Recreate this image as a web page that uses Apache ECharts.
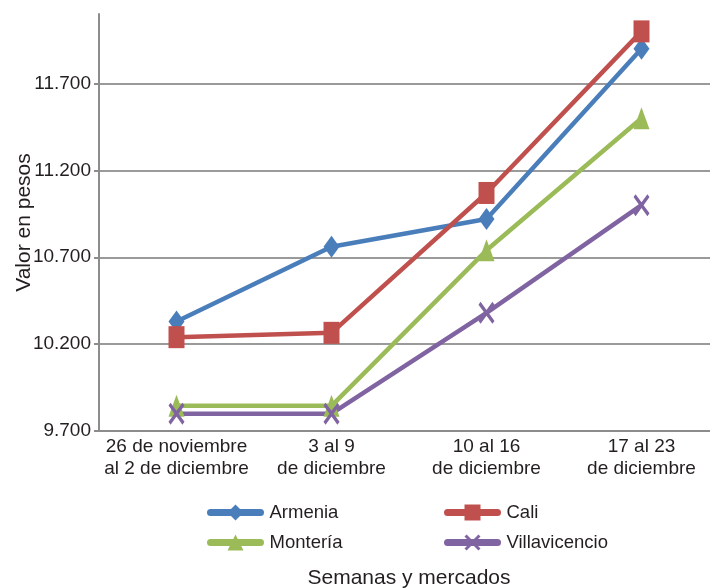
<!DOCTYPE html>
<html><head><meta charset="utf-8">
<script src="https://cdn.jsdelivr.net/npm/echarts@6/dist/echarts.min.js"></script>
<style>html,body{margin:0;padding:0;background:#fff}#c{width:710px;height:588px}</style>
</head><body><div id="c"></div>
<script>
const categories = ['26 de noviembre\nal 2 de diciembre', '3 al 9\nde diciembre', '10 al 16\nde diciembre', '17 al 23\nde diciembre'];
const armenia = [10330, 10760, 10920, 11900];
const cali = [10240, 10265, 11070, 12000];
const monteria = [9845, 9845, 10740, 11500];
const villavicencio = [9800, 9800, 10380, 11000];
const seriesNames = ['Armenia', 'Cali', 'Montería', 'Villavicencio'];
const yTicks = [9700, 10200, 10700, 11200, 11700];

const fmt = v => { const s = String(v); return s.length > 3 ? s.slice(0, s.length - 3) + '.' + s.slice(-3) : s; };
const crossPath = 'path://M0,1.3L1.3,0L5,3.7L8.7,0L10,1.3L6.3,5L10,8.7L8.7,10L5,6.3L1.3,10L0,8.7L3.7,5Z';
const font = 'Liberation Sans, Arial, sans-serif';
const txt = '#231f20';

function mk(name, data, color, symbol) {
  return {
    name, type: 'line', data, symbol, symbolSize: [16, 22],
    lineStyle: { color, width: 4.5 }, itemStyle: { color },
    emphasis: { disabled: true }, animation: false, z: 3
  };
}

const legendCommon = {
  orient: 'vertical', top: 503, padding: 0, itemWidth: 50, itemHeight: 20, itemGap: 11,
  textStyle: { fontSize: 18.5, color: txt, fontFamily: font, padding: [0, 0, 0, 4] }, selectedMode: false,
  lineStyle: { width: 7, cap: 'round' }
};

const chart = echarts.init(document.getElementById('c'), null, { renderer: 'canvas' });
chart.setOption({
  backgroundColor: '#fff',
  animation: false,
  textStyle: { fontFamily: font },
  grid: { left: 99, width: 620, top: 14, height: 417, containLabel: false, outerBoundsMode: 'none' },
  legend: [
    Object.assign({ data: [seriesNames[0], seriesNames[2]], left: 207 }, legendCommon),
    Object.assign({ data: [seriesNames[1], seriesNames[3]], left: 444 }, legendCommon)
  ],
  xAxis: {
    type: 'category', data: categories, boundaryGap: true,
    name: 'Semanas y mercados', nameLocation: 'middle', nameGap: 137, nameMoveOverlap: false,
    nameTextStyle: { fontSize: 21, color: txt, fontFamily: font },
    axisLine: { lineStyle: { color: '#8c8c8c', width: 2 } },
    axisTick: { show: false },
    axisLabel: { fontSize: 19, color: txt, lineHeight: 22, margin: 5, fontFamily: font, interval: 0 }
  },
  yAxis: {
    type: 'value', min: 9700, max: 12100, interval: 500,
    name: 'Valor en pesos', nameLocation: 'middle', nameGap: 64, nameRotate: 90, nameMoveOverlap: false,
    nameTextStyle: { fontSize: 21, color: txt, fontFamily: font },
    axisLine: { show: true, lineStyle: { color: '#8c8c8c', width: 2 } },
    axisTick: { show: true, length: 5, lineStyle: { color: '#8c8c8c', width: 2 } },
    splitLine: { showMaxLine: false, lineStyle: { color: '#9a9a9a', width: 2 } },
    axisLabel: { fontSize: 19, color: txt, margin: 8, fontFamily: font, showMaxLabel: false,
      formatter: v => yTicks.includes(v) ? fmt(v) : '' }
  },
  series: [
    mk(seriesNames[0], armenia, '#4a7ebb', 'diamond'),
    mk(seriesNames[1], cali, '#c0504d', 'rect'),
    mk(seriesNames[2], monteria, '#9bbb59', 'triangle'),
    mk(seriesNames[3], villavicencio, '#8064a2', crossPath)
  ]
});
</script></body></html>
